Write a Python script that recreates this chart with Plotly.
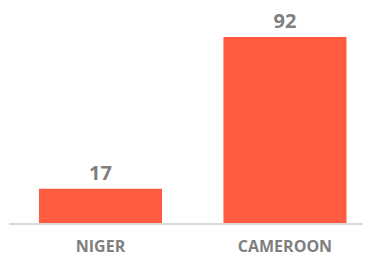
import plotly.graph_objects as go

categories = ["NIGER", "CAMEROON"]
values = [17, 92]

fig = go.Figure(go.Bar(
    x=categories, y=values,
    marker=dict(color="#FF5B3F", line=dict(width=0)),
    width=0.667,
    text=values, textposition="outside",
    textfont=dict(family="Open Sans", size=20, color="#7F7F7F", weight="bold"),
    cliponaxis=False,
))

# page body has an 8px default margin, so the figure is sized to end at 371x256
fig.update_layout(
    width=363, height=248,
    margin=dict(l=1, r=1, t=2, b=33, autoexpand=False),
    paper_bgcolor="white", plot_bgcolor="white",
    showlegend=False,
    xaxis=dict(
        range=[-0.496, 1.461],
        showline=True, linecolor="#D9D9D9", linewidth=2,
        showgrid=False, zeroline=False,
        tickfont=dict(family="Open Sans", size=16, color="#7F7F7F", weight="bold"),
        ticks="", ticklabelstandoff=8, automargin=False,
    ),
    yaxis=dict(range=[0, 105.4], visible=False, showgrid=False, zeroline=False),
)

fig.write_html("out.html")
